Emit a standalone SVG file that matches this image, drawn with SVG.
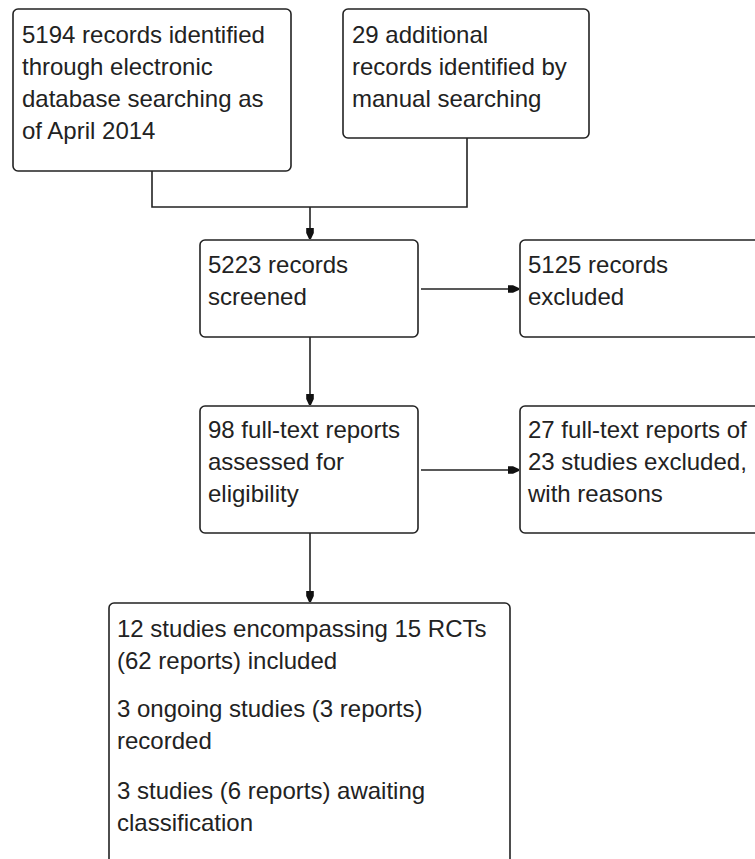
<svg xmlns="http://www.w3.org/2000/svg" width="755" height="859" viewBox="0 0 755 859">
<defs>
<style>
.box{fill:#fff;stroke:#222;stroke-width:1.6}
.t{font-family:"Liberation Sans",Arial,sans-serif;font-size:24px;fill:#222}
.c{fill:none;stroke:#222;stroke-width:1.6}
</style>
<marker id="ah" markerUnits="userSpaceOnUse" markerWidth="14" markerHeight="12" viewBox="-12 -6 14 12" refX="0" refY="0" orient="auto">
<path d="M-11,-3.8 L-6,-3.8 L0,-1 L0,1 L-6,3.8 L-11,3.8 Z" fill="#111"/>
</marker>
</defs>
<rect width="755" height="859" fill="#fff"/>
<g id="connectors">
<path class="c" d="M152,171 V207 H467 V138"/>
<path class="c" d="M310,207 V239" marker-end="url(#ah)"/>
<path class="c" d="M310,337 V405" marker-end="url(#ah)"/>
<path class="c" d="M421,289 H519" marker-end="url(#ah)"/>
<path class="c" d="M421,470 H519" marker-end="url(#ah)"/>
<path class="c" d="M310,533 V602" marker-end="url(#ah)"/>
</g>
<g id="n1">
<rect class="box" x="13" y="9" width="278" height="162" rx="5"/>
<text class="t" x="22" y="43">5194 records identified</text>
<text class="t" x="22" y="75">through electronic</text>
<text class="t" x="22" y="107">database searching as</text>
<text class="t" x="22" y="139">of April 2014</text>
</g>
<g id="n2">
<rect class="box" x="343" y="9" width="246" height="129" rx="5"/>
<text class="t" x="352" y="43">29 additional</text>
<text class="t" x="352" y="75">records identified by</text>
<text class="t" x="352" y="107">manual searching</text>
</g>
<g id="n3">
<rect class="box" x="200" y="240" width="218" height="97" rx="5"/>
<text class="t" x="208" y="273">5223 records</text>
<text class="t" x="208" y="305">screened</text>
</g>
<g id="n4">
<rect class="box" x="520" y="240" width="245" height="97" rx="5"/>
<text class="t" x="528" y="273">5125 records</text>
<text class="t" x="528" y="305">excluded</text>
</g>
<g id="n5">
<rect class="box" x="200" y="406" width="218" height="127" rx="5"/>
<text class="t" x="208" y="438">98 full-text reports</text>
<text class="t" x="208" y="470">assessed for</text>
<text class="t" x="208" y="502">eligibility</text>
</g>
<g id="n6">
<rect class="box" x="520" y="406" width="245" height="127" rx="5"/>
<text class="t" x="528" y="438">27 full-text reports of</text>
<text class="t" x="528" y="470">23 studies excluded,</text>
<text class="t" x="528" y="502">with reasons</text>
</g>
<g id="n7">
<rect class="box" x="109" y="603" width="401" height="270" rx="5"/>
<text class="t" x="117" y="637">12 studies encompassing 15 RCTs</text>
<text class="t" x="117" y="669">(62 reports) included</text>
<text class="t" x="117" y="717">3 ongoing studies (3 reports)</text>
<text class="t" x="117" y="749">recorded</text>
<text class="t" x="117" y="799">3 studies (6 reports) awaiting</text>
<text class="t" x="117" y="831">classification</text>
</g>
</svg>
